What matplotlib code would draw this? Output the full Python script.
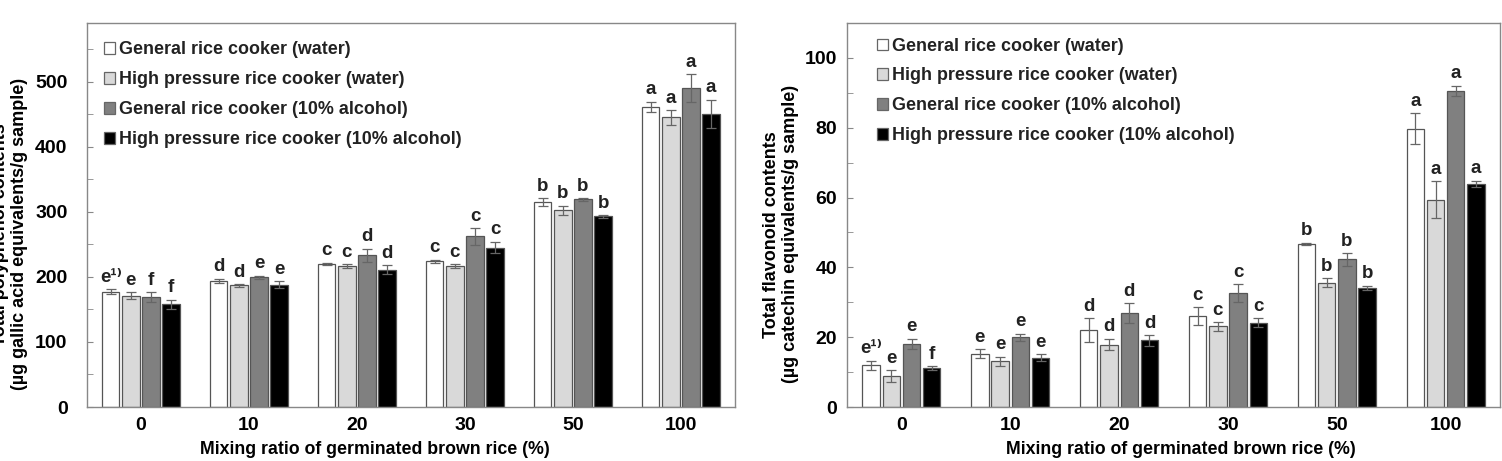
import matplotlib.pyplot as plt
import numpy as np

plt.rcParams['font.family'] = ['Liberation Sans', 'DejaVu Sans']
plt.rcParams['font.weight'] = 'bold'
plt.rcParams['text.color'] = '#222222'

groups = ['0', '10', '20', '30', '50', '100']
series = ['General rice cooker (water)',
          'High pressure rice cooker (water)',
          'General rice cooker (10% alcohol)',
          'High pressure rice cooker (10% alcohol)']
colors = ['white', '#d9d9d9', '#808080', 'black']

# polyphenol (left panel)
poly_vals = [
    [177, 194, 220, 224, 315, 461],
    [171, 187, 216, 216, 302, 445],
    [169, 199, 233, 262, 319, 490],
    [158, 188, 211, 245, 293, 450],
]
poly_err = [
    [4, 3, 2, 2, 6, 8],
    [5, 2, 3, 3, 7, 11],
    [7, 3, 10, 13, 2, 21],
    [7, 5, 7, 9, 2, 22],
]
poly_letters = [
    ['e¹⁾', 'd', 'c', 'c', 'b', 'a'],
    ['e', 'd', 'c', 'c', 'b', 'a'],
    ['f', 'e', 'd', 'c', 'b', 'a'],
    ['f', 'e', 'd', 'c', 'b', 'a'],
]

# flavonoid (right panel)
flav_vals = [
    [11.9, 15.3, 22.0, 26.0, 46.8, 79.7],
    [8.9, 13.1, 17.9, 23.1, 35.6, 59.4],
    [18.0, 20.0, 26.9, 32.7, 42.3, 90.6],
    [11.2, 14.1, 19.1, 24.2, 34.1, 63.9],
]
flav_err = [
    [1.3, 1.3, 3.5, 2.6, 0.3, 4.5],
    [1.7, 1.3, 1.7, 1.2, 1.3, 5.3],
    [1.5, 1.0, 2.8, 2.5, 1.8, 1.4],
    [0.5, 1.0, 1.5, 1.2, 0.6, 0.9],
]
flav_letters = [
    ['e¹⁾', 'e', 'd', 'c', 'b', 'a'],
    ['e', 'e', 'd', 'c', 'b', 'a'],
    ['e', 'e', 'd', 'c', 'b', 'a'],
    ['f', 'e', 'd', 'c', 'b', 'a'],
]


def draw(ax, vals, errs, letters, ymax, major, minor, ylabel, labx, ypad, legpos, xlabx):
    x = np.arange(len(groups))
    pitch = 0.186
    width = 0.16
    for i in range(4):
        xs = x + (i - 1.5) * pitch
        ax.bar(xs, vals[i], width, color=colors[i], edgecolor='#555555',
               linewidth=0.9, label=series[i], zorder=2)
        ax.errorbar(xs, vals[i], yerr=errs[i], fmt='none', ecolor='#666666',
                    elinewidth=0.9, capsize=3.5, capthick=0.9, zorder=3)
        for xx, v, e, t in zip(xs, vals[i], errs[i], letters[i]):
            ax.annotate(t, (xx, v + e), xytext=(0, 2.5), textcoords='offset points',
                        ha='center', va='bottom', fontsize=13.5, fontweight='bold')
    ax.set_xlim(-0.5, len(groups) - 0.5)
    ax.set_ylim(0, ymax)
    ax.set_xticks(x)
    ax.set_xticklabels(groups)
    ax.set_yticks(np.arange(0, ymax - 1, major))
    ax.set_yticks(np.arange(0, ymax, minor), minor=True)
    ax.tick_params(axis='x', length=0, pad=7, labelsize=14)
    ax.tick_params(axis='y', which='both', direction='in', length=4,
                   color='#888888', labelsize=14, pad=ypad)
    for s in ax.spines.values():
        s.set_color('#888888')
        s.set_linewidth(1.0)
    ax.set_xlabel('Mixing ratio of germinated brown rice (%)', fontsize=12.8,
                  fontweight='bold')
    ax.xaxis.set_label_coords(xlabx, -0.088)
    ax.set_ylabel(ylabel, fontsize=13, fontweight='bold', linespacing=1.15)
    ax.yaxis.set_label_coords(labx, 0.45)
    leg = ax.legend(loc='upper left', bbox_to_anchor=legpos, frameon=False,
                    fontsize=12.9, handlelength=0.6, handleheight=0.6,
                    handletextpad=0.2, labelspacing=0.72, borderaxespad=0.2)
    for h in leg.legend_handles:
        h.set_edgecolor('#666666')


fig = plt.figure(figsize=(15.02, 4.61), dpi=100)
ax1 = fig.add_axes([0.0579, 0.1171, 0.4314, 0.833])
ax2 = fig.add_axes([0.5639, 0.1171, 0.4348, 0.833])

draw(ax1, poly_vals, poly_err, poly_letters, 590, 100, 50,
     'Total polyphenol contents\n(µg gallic acid equivalents/g sample)',
     -0.091, 14, (0.01, 0.98), 0.444)
draw(ax2, flav_vals, flav_err, flav_letters, 110, 20, 10,
     'Total flavonoid contents\n(µg catechin equivalents/g sample)',
     -0.073, 7, (0.03, 0.99), 0.511)

fig.savefig('out.png', dpi=100)
